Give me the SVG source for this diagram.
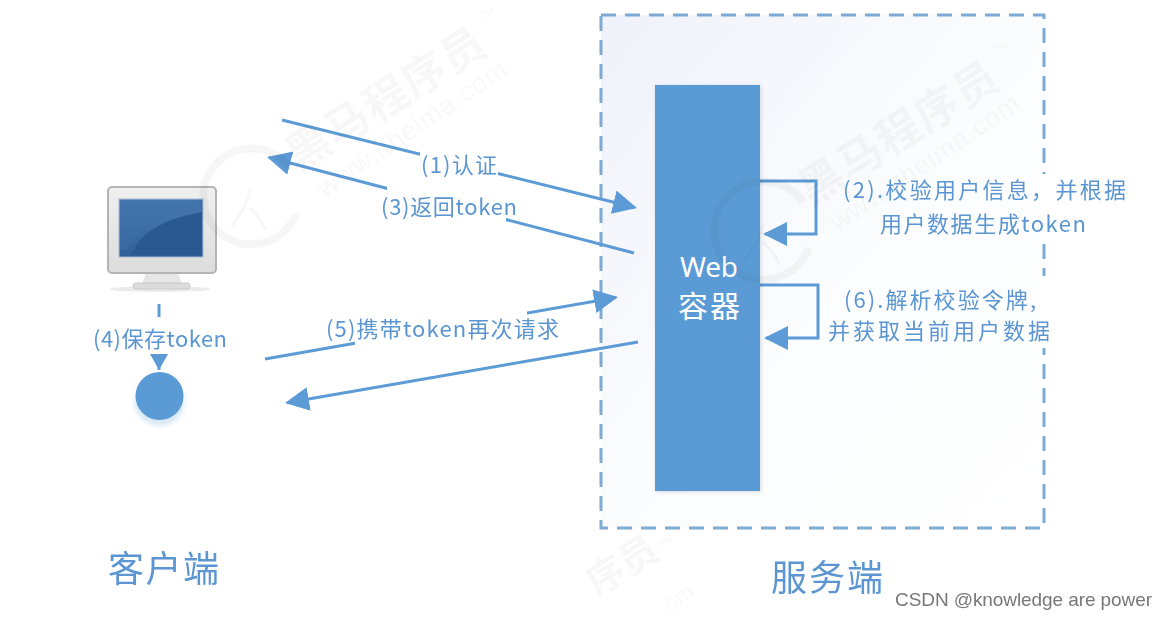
<svg xmlns="http://www.w3.org/2000/svg" width="1167" height="619" viewBox="0 0 1167 619">
<style>
.t{font-family:"Noto Sans CJK SC","Liberation Sans",sans-serif;fill:#5b96d2;font-size:22px}
.l{fill:none;stroke:#5b9bd5;stroke-width:3}
.a{fill:#5b9bd5}
.wm{font-family:"Noto Sans CJK SC",sans-serif;font-weight:700;font-size:44px;fill:#000;fill-opacity:.03}
.wu{font-family:"Liberation Sans",sans-serif;font-size:27px;fill:#000;fill-opacity:.028}
.tm{font-family:"Liberation Sans",sans-serif;font-size:10px;fill:#000;fill-opacity:.04}
.r{fill:none;stroke:#000;stroke-opacity:.035;stroke-width:8}
.bg{fill:#fff}
</style>
<defs>
<linearGradient id="g" x1="0" y1="0" x2="1" y2="1"><stop offset="0" stop-color="#eff2fa"/><stop offset=".55" stop-color="#fcfdfe"/><stop offset="1" stop-color="#fff"/></linearGradient>
<linearGradient id="s" x1="0" y1="0" x2="0" y2="1"><stop offset="0" stop-color="#4d7cb3"/><stop offset="1" stop-color="#2f5f98"/></linearGradient>
<linearGradient id="f" x1="0" y1="0" x2="0" y2="1"><stop offset="0" stop-color="#f0f0f0"/><stop offset="1" stop-color="#dcdcdc"/></linearGradient>
<filter id="b" x="-5%" y="-5%" width="110%" height="110%"><feGaussianBlur stdDeviation=".5"/></filter>
<filter id="b2" x="-30%" y="-30%" width="160%" height="160%"><feGaussianBlur stdDeviation="2"/></filter>
<marker id="ah" markerUnits="userSpaceOnUse" markerWidth="26" markerHeight="26" refX="22" refY="12" orient="auto"><path d="M0 0L24 12L0 24Z" class="a"/></marker>
<marker id="ah2" markerUnits="userSpaceOnUse" markerWidth="18" markerHeight="20" refX="16" refY="9" orient="auto"><path d="M0 0L16 9L0 18Z" class="a"/></marker>
</defs>
<rect width="1167" height="619" fill="#fff"/>
<g id="server-zone" filter="url(#b)">
<rect x="601" y="15" width="443" height="513" fill="url(#g)"/>
<rect x="601" y="15" width="443" height="513" fill="none" stroke="#7dabd6" stroke-width="3" stroke-dasharray="15 9"/>
</g>
<g id="connectors" filter="url(#b)">
<path class="l" d="M282 120L635 207.500" marker-end="url(#ah)"/>
<path class="l" d="M634 253L269 157.500" marker-end="url(#ah)"/>
<path class="l" d="M265 359L616 297.400" marker-end="url(#ah)"/>
<path class="l" d="M638 342L287 402.700" marker-end="url(#ah)"/>
<path class="l" d="M760 181H816V234H765" marker-end="url(#ah)"/>
<path class="l" d="M760 285H818V338H766" marker-end="url(#ah)"/>
<path class="l" d="M159 304V370" marker-end="url(#ah2)"/>
</g>
<g id="web-container">
<rect x="656" y="86" width="105" height="406" fill="#000" fill-opacity=".14" filter="url(#b2)"/>
<rect x="655" y="85" width="105" height="406" fill="#5b9bd5"/>
<text x="680" y="277" font-family="Noto Sans,sans-serif" font-size="28" fill="#fff" textLength="58">Web</text>
<text x="678" y="317" font-family="Noto Sans CJK SC,sans-serif" font-size="30" fill="#fff" textLength="62">容器</text>
</g>
<g id="client" filter="url(#b)">
<ellipse cx="160" cy="289" rx="50" ry="3" fill="#000" fill-opacity=".08"/>
<path d="M146 273H178L182 284H142Z" fill="#e6e6e6"/>
<rect x="133" y="283" width="57" height="6" rx="3" fill="#dcdcdc" stroke="#c8c8c8"/>
<rect x="108" y="187" width="108" height="86" rx="4" fill="url(#f)" stroke="#b4b4b4" stroke-width="2"/>
<rect x="119" y="199" width="84" height="58" fill="url(#s)" stroke="#a8bdd6"/>
<path d="M126 250C140 225 170 212 202 211V200H120V250Z" fill="#3e6fa8" opacity=".55"/>
<path d="M140 240C155 224 178 216 202 212V255H130Z" fill="#2a5890"/>
</g>
<g id="store">
<ellipse cx="159.500" cy="402" rx="25" ry="24" fill="#5b9bd5" fill-opacity=".22" filter="url(#b2)"/>
<circle cx="159.500" cy="396" r="24" fill="#5b9bd5"/>
</g>
<g id="label-masks">
<rect class="bg" x="420" y="150" width="78" height="35"/>
<rect class="bg" x="387" y="186" width="119" height="39"/>
<rect class="bg" x="355" y="305" width="172" height="43"/>
<rect class="bg" x="145" y="317" width="28" height="37"/>
<rect x="1040" y="174" width="8" height="67" fill="#fff"/>
<rect x="1040" y="276" width="8" height="72" fill="#fff"/>
</g>
<g id="watermarks" filter="url(#b)">
<text class="wm" transform="translate(298 172) rotate(-32)" textLength="226">黑马程序员</text>
<text class="wu" transform="translate(325 198) rotate(-34)" textLength="222">www.itheima.com</text>
<text class="tm" transform="translate(484 20) rotate(-33)">TM</text>
<path class="r" d="M290 168A48 48 0 1 0 296 214"/>
<path d="M232 226C240 214 246 208 250 190M250 208C256 214 262 220 266 230" fill="none" stroke="#000" stroke-opacity=".03" stroke-width="3"/>
<text class="wm" transform="translate(811 206) rotate(-32)" textLength="226">黑马程序员</text>
<text class="wu" transform="translate(838 232) rotate(-34)" textLength="222">www.itheima.com</text>
<text class="tm" transform="translate(997 54) rotate(-33)">TM</text>
<path class="r" d="M803 202A49 49 0 1 0 809 248"/>
<path d="M745 260C753 248 759 242 763 224M763 242C769 248 775 254 779 264" fill="none" stroke="#000" stroke-opacity=".03" stroke-width="3"/>
<text class="wm" style="font-size:38px" transform="translate(597 597) rotate(-32)">序员</text>
<text class="wu" style="font-size:22px" transform="translate(670 612) rotate(-34)">om</text>
<text class="tm" transform="translate(662 548) rotate(-33)">TM</text>
</g>
<g id="labels" filter="url(#b)">
<text class="t" x="421" y="173" textLength="76">(1)认证</text>
<text class="t" x="381" y="215" textLength="136">(3)返回token</text>
<text class="t" x="93" y="347" textLength="134">(4)保存token</text>
<text class="t" x="326" y="337" textLength="233">(5)携带token再次请求</text>
<text class="t" x="843" y="198" textLength="283">(2).校验用户信息，并根据</text>
<text class="t" x="880" y="232" textLength="206">用户数据生成token</text>
<text class="t" x="844" y="308" textLength="192">(6).解析校验令牌,</text>
<text class="t" x="828" y="339" textLength="222">并获取当前用户数据</text>
<text class="t" x="108" y="582" style="font-size:36px" textLength="111">客户端</text>
<text class="t" x="771" y="591" style="font-size:36px" textLength="112">服务端</text>
</g>
<text x="895" y="606" font-family="Liberation Sans,sans-serif" font-size="19" fill="#777" textLength="257">CSDN @knowledge are power</text>
</svg>
